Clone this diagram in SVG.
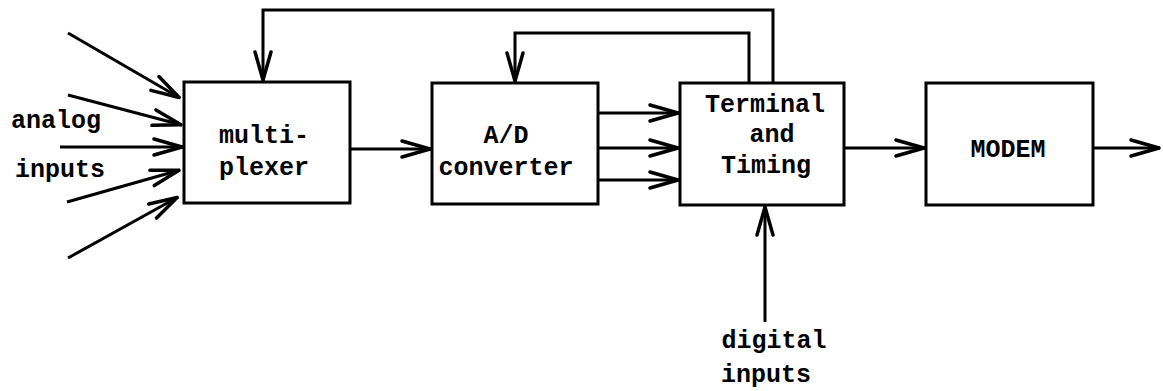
<svg xmlns="http://www.w3.org/2000/svg" width="1163" height="391" viewBox="0 0 1163 391">
<style>
.box{fill:#fff;stroke:#000;stroke-width:3}
.ln{fill:none;stroke:#000;stroke-width:3;marker-end:url(#ah)}
.pl{fill:none;stroke:#000;stroke-width:3}
text{font-family:"Liberation Mono","DejaVu Sans Mono",monospace;font-weight:bold;font-size:25px;fill:#000;text-anchor:middle}
</style>
<defs>
<marker id="ah" viewBox="-32 -11 34 22" refX="0" refY="0" markerWidth="34" markerHeight="22" markerUnits="userSpaceOnUse" orient="auto">
<path d="M-29,-8 L-1,0 L-29,8" fill="none" stroke="#000" stroke-width="3.5" stroke-linejoin="round" stroke-linecap="round"/>
</marker>
</defs>
<rect width="1163" height="391" fill="#fff"/>
<g id="connectors">
<line class="ln" x1="68" y1="33" x2="180" y2="98"/>
<line class="ln" x1="68" y1="95" x2="182" y2="125"/>
<line class="ln" x1="60" y1="147" x2="183" y2="147"/>
<line class="ln" x1="67" y1="202" x2="180" y2="170"/>
<line class="ln" x1="68" y1="258" x2="178" y2="197"/>
<line class="ln" x1="350" y1="149" x2="431" y2="149"/>
<line class="ln" x1="598" y1="113" x2="679" y2="113"/>
<line class="ln" x1="598" y1="148" x2="679" y2="148"/>
<line class="ln" x1="598" y1="180" x2="679" y2="180"/>
<line class="ln" x1="844" y1="148" x2="925" y2="148"/>
<line class="ln" x1="1093" y1="148" x2="1160" y2="148"/>
<line class="ln" x1="765" y1="322" x2="765" y2="206"/>
<polyline class="ln" points="773,83 773,10 263,10 263,81"/>
<polyline class="ln" points="749,83 749,33 515,33 515,82"/>
</g>
<g id="multiplexer">
<rect class="box" x="184" y="82" width="166" height="121"/>
<text x="264" y="143">multi-</text>
<text x="264" y="175">plexer</text>
</g>
<g id="ad-converter">
<rect class="box" x="432" y="83" width="166" height="121"/>
<text x="506" y="143">A/D</text>
<text x="506" y="175">converter</text>
</g>
<g id="terminal-timing">
<rect class="box" x="680" y="83" width="164" height="122"/>
<text x="765" y="112">Terminal</text>
<text x="772" y="142">and</text>
<text x="766" y="173">Timing</text>
</g>
<g id="modem">
<rect class="box" x="926" y="83" width="167" height="122"/>
<text x="1008" y="157">MODEM</text>
</g>
<g id="analog-label">
<text x="56" y="128">analog</text>
<text x="60" y="177">inputs</text>
</g>
<g id="digital-label">
<text x="774" y="348">digital</text>
<text x="766" y="382">inputs</text>
</g>
</svg>
